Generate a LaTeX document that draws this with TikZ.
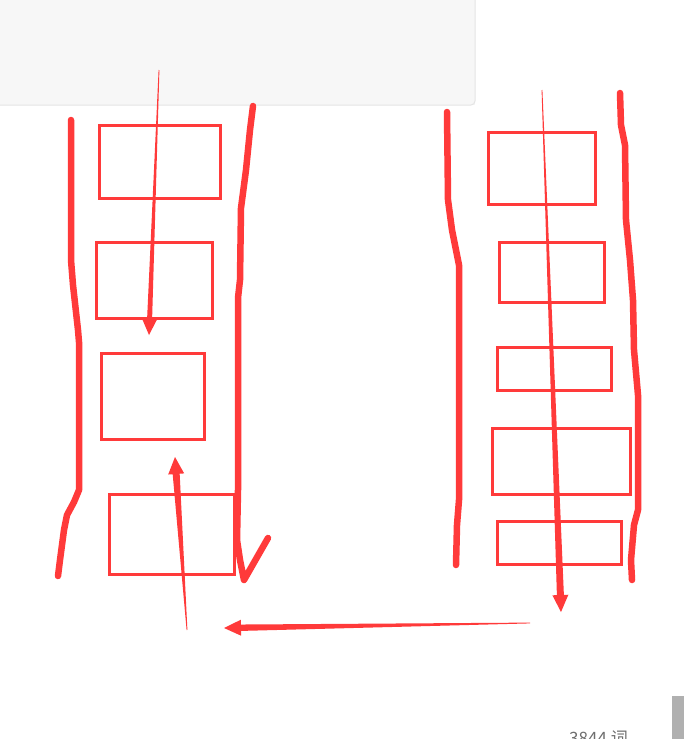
\documentclass[tikz,border=0pt]{standalone}
\usepackage{fontspec}
\newfontfamily\cjkfont{Noto Sans CJK SC}
\usetikzlibrary{calc}
\definecolor{pen}{RGB}{255,58,58}
\definecolor{panel}{RGB}{247,247,247}
\definecolor{panelline}{RGB}{228,228,228}
\definecolor{scroll}{RGB}{176,176,176}
\definecolor{wc}{RGB}{110,110,110}
\tikzset{
  box/.style={draw=pen,line width=2.6pt},
  stroke/.style={draw=pen,line width=6.5pt,line cap=round,line join=round},
}
\newcommand{\taper}[3]{% tail, tip, half-width at head shaft
  \coordinate (hb) at ($(#2)!17pt!(#1)$);
  \fill[pen] ($(#1)!0.4pt!90:(#2)$) -- ($(hb)!#3!90:(#2)$) -- ($(hb)!8pt!90:(#2)$) -- (#2)
    -- ($(hb)!8pt!-90:(#2)$) -- ($(hb)!#3!-90:(#2)$) -- ($(#1)!0.4pt!-90:(#2)$) -- cycle;
}
\begin{document}
\begin{tikzpicture}[x=1pt,y=-1pt]
\useasboundingbox (0,0) rectangle (684,739);
\fill[white] (0,0) rectangle (684,739);
% top panel
\fill[panel] (0,0) rectangle (475,105);
\draw[panelline,line width=1pt] (475,0) -- (475,101) arc[start angle=0,end angle=90,radius=4] -- (0,105);
% left column boxes
\node[box,inner sep=0pt,minimum width=121pt,minimum height=73pt,anchor=north west] (L1) at (98,124) {};
\node[box,inner sep=0pt,minimum width=116pt,minimum height=76pt,anchor=north west] (L2) at (95,241) {};
\node[box,inner sep=0pt,minimum width=103pt,minimum height=86pt,anchor=north west] (L3) at (100,352) {};
\node[box,inner sep=0pt,minimum width=125pt,minimum height=80pt,anchor=north west] (L4) at (108,493) {};
% right column boxes
\node[box,inner sep=0pt,minimum width=107pt,minimum height=72pt,anchor=north west] (R1) at (487,131) {};
\node[box,inner sep=0pt,minimum width=105pt,minimum height=60pt,anchor=north west] (R2) at (498,241) {};
\node[box,inner sep=0pt,minimum width=114pt,minimum height=43pt,anchor=north west] (R3) at (496,346) {};
\node[box,inner sep=0pt,minimum width=138pt,minimum height=66pt,anchor=north west] (R4) at (491,427) {};
\node[box,inner sep=0pt,minimum width=124pt,minimum height=43pt,anchor=north west] (R5) at (496,520) {};
% hand-drawn strokes
\draw[stroke] (71,120) -- (71,260) -- (73,285) -- (78,330) -- (79,342) -- (79,490) -- (74,502) -- (67,515) -- (64,530) -- (60,560) -- (58,576);
\draw[stroke] (253,106) -- (250,130) -- (246,170) -- (241,208) -- (240,280) -- (238,298) -- (238,490) -- (237,540) -- (240,560) -- (244,580) -- (268,538);
\draw[stroke] (447,112) -- (448,200) -- (452,230) -- (459,265) -- (459,500) -- (457,525) -- (456,565);
\draw[stroke] (620,93) -- (621,125) -- (625,145) -- (626,220) -- (630,260) -- (633,300) -- (634,350) -- (638,395) -- (638,510) -- (634,525) -- (631,560) -- (632,580);
% tapered arrows
\coordinate (a1t) at (159,70);  \coordinate (a1h) at (149,335);
\coordinate (a2t) at (187,630); \coordinate (a2h) at (175,457);
\coordinate (a3t) at (542,90);  \coordinate (a3h) at (561,612);
\coordinate (a4t) at (530,623); \coordinate (a4h) at (224,628);
\taper{a1t}{a1h}{2.5pt}
\taper{a2t}{a2h}{3.5pt}
\taper{a3t}{a3h}{3.5pt}
\taper{a4t}{a4h}{3.2pt}
% status bar bits
\fill[scroll] (672,696) rectangle (684,739);
\node[anchor=base west,inner sep=0pt,text=wc,font=\cjkfont\fontsize{17}{17}\selectfont] (wc) at (569,744) {3844 词};
\end{tikzpicture}
\end{document}
